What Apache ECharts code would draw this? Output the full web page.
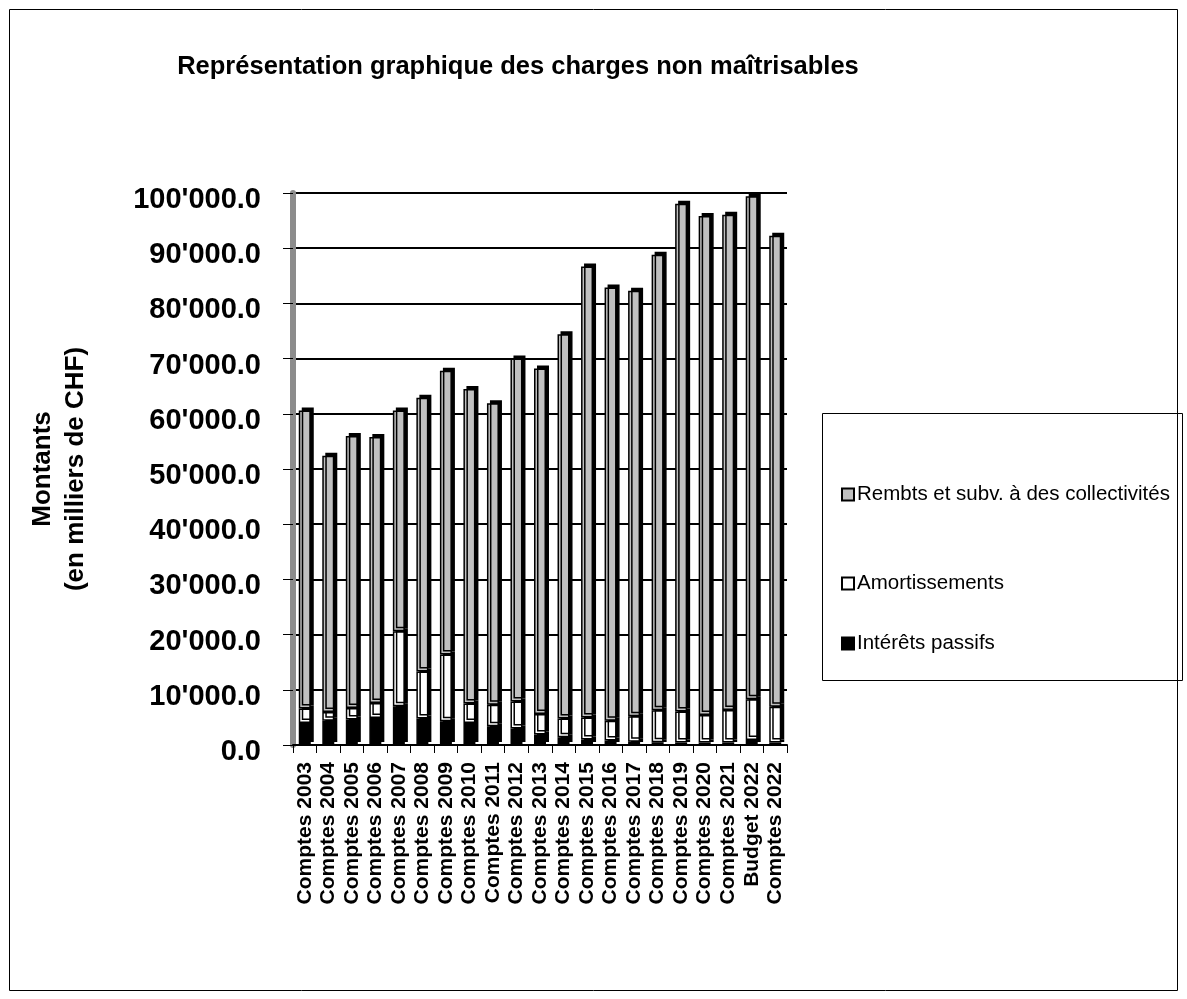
<!DOCTYPE html>
<html>
<head>
<meta charset="utf-8">
<script src="https://cdn.jsdelivr.net/npm/echarts@6/dist/echarts.min.js"></script>
<style>
  html, body { margin: 0; padding: 0; background: #fff; }
  #chart { width: 1187px; height: 999px; }
</style>
</head>
<body>
<div id="chart"></div>
<script>
// values in milliers de CHF
const categories = [
    'Comptes 2003', 'Comptes 2004', 'Comptes 2005', 'Comptes 2006', 'Comptes 2007',
    'Comptes 2008', 'Comptes 2009', 'Comptes 2010', 'Comptes 2011', 'Comptes 2012',
    'Comptes 2013', 'Comptes 2014', 'Comptes 2015', 'Comptes 2016', 'Comptes 2017',
    'Comptes 2018', 'Comptes 2019', 'Comptes 2020', 'Comptes 2021', 'Budget 2022',
    'Comptes 2022'
];
const interets = [4000, 4400, 4600, 4900, 7000, 4800, 4300, 4000, 3400, 3000,
    1900, 1400, 1000, 800, 600, 500, 450, 450, 450, 900, 450];
const amortissements = [2600, 1600, 2100, 2700, 13600, 8500, 12100, 3500, 3900, 4900,
    3700, 3400, 4000, 3600, 4600, 5800, 5600, 5000, 5900, 7400, 6500];
const rembts = [54000, 46400, 49300, 48200, 40000, 49600, 51400, 57000, 54600, 62100,
    62600, 69600, 81700, 78500, 77100, 82500, 92000, 90400, 89700, 91100, 85300];
const yTicks = [0, 10000, 20000, 30000, 40000, 50000, 60000, 70000, 80000, 90000, 100000];

const FONT = "'Liberation Sans', Arial, sans-serif";

function formatCHF(v) {
    const s = String(Math.round(v)).replace(/\B(?=(\d{3})+(?!\d))/g, "'");
    return s + '.0';
}

function barStyle(color) {
    return {
        color: color,
        borderColor: '#000',
        borderWidth: 1.5,
        shadowColor: '#000',
        shadowBlur: 0,
        shadowOffsetX: 3,
        shadowOffsetY: -3,
    };
}

function legendAt(name, top) {
    return {
        data: [name],
        left: 836,
        top: top,
        itemWidth: 12,
        itemHeight: 12,
        itemGap: 4,
        icon: 'rect',
        selectedMode: false,
        textStyle: { fontFamily: FONT, fontSize: 20.5, color: '#000', padding: [0, 0, 0, -2] },
        itemStyle: { borderColor: '#000', borderWidth: 2 },
    };
}

function getOption() {
    const option = {
        animation: false,
        backgroundColor: '#fff',
        title: {
            text: 'Représentation graphique des charges non maîtrisables',
            left: 513,
            top: 49,
            textAlign: 'center',
            textStyle: { fontFamily: FONT, fontSize: 25.5, fontWeight: 'bold', color: '#000' },
        },
        legend: [
            legendAt('Rembts et subv. à des collectivités', 479),
            legendAt('Amortissements', 568),
            legendAt('Intérêts passifs', 628),
        ],
        graphic: [
            {
                type: 'rect',
                shape: { x: 9.5, y: 9.5, width: 1168, height: 981 },
                style: { fill: 'none', stroke: '#000', lineWidth: 1 },
                silent: true,
            },
            {
                type: 'rect',
                shape: { x: 822.5, y: 413.5, width: 360, height: 267 },
                style: { fill: 'none', stroke: '#000', lineWidth: 1 },
                silent: true,
            },
        ],
        grid: {
            left: 293,
            right: 400,
            top: 193,
            bottom: 254,
        },
        xAxis: {
            type: 'category',
            data: categories,
            axisLine: { lineStyle: { color: '#000', width: 2 } },
            axisTick: { show: true, length: 8, lineStyle: { color: '#000' } },
            axisLabel: {
                interval: 0,
                rotate: 90,
                margin: 17,
                fontFamily: FONT,
                fontSize: 21,
                fontWeight: 'bold',
                color: '#000',
            },
        },
        yAxis: {
            type: 'value',
            min: 0,
            max: 100000,
            interval: 10000,
            name: 'Montants\n(en milliers de CHF)',
            nameLocation: 'middle',
            nameRotate: 90,
            nameGap: 201,
            nameTextStyle: {
                fontFamily: FONT,
                fontSize: 26,
                fontWeight: 'bold',
                color: '#000',
                lineHeight: 33,
            },
            axisLine: { show: true, lineStyle: { color: '#8c8c8c', width: 6 } },
            axisTick: { show: true, length: 10, lineStyle: { color: '#000' } },
            splitLine: { show: true, lineStyle: { color: '#000', width: 2 } },
            axisLabel: {
                margin: 32,
                verticalAlign: 'top',
                lineHeight: 14,
                fontFamily: FONT,
                fontSize: 29,
                fontWeight: 'bold',
                color: '#000',
                formatter: (v) => formatCHF(v),
                customValues: yTicks,
            },
        },
        series: [
            {
                name: 'Intérêts passifs',
                type: 'bar',
                stack: 'total',
                barWidth: 12,
                data: interets,
                itemStyle: barStyle('#000'),
            },
            {
                name: 'Amortissements',
                type: 'bar',
                stack: 'total',
                barWidth: 12,
                data: amortissements,
                itemStyle: barStyle('#fff'),
            },
            {
                name: 'Rembts et subv. à des collectivités',
                type: 'bar',
                stack: 'total',
                barWidth: 12,
                data: rembts,
                itemStyle: barStyle('#c0c0c0'),
            },
        ],
    };
    return option;
}

function main() {
    const chart = echarts.init(document.getElementById('chart'), null, { renderer: 'canvas' });
    chart.setOption(getOption());
}

main();
</script>
</body>
</html>
